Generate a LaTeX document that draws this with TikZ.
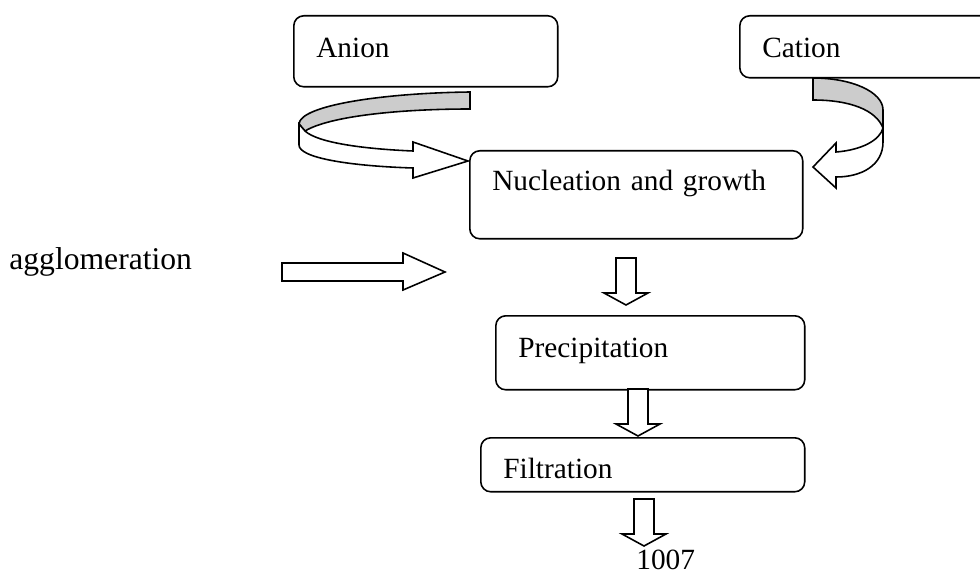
\documentclass[tikz,border=0pt]{standalone}
\usepackage{fontspec}
\usepackage{tikz}
\setmainfont{Liberation Serif}
\definecolor{ribbonback}{RGB}{204,204,204}

\tikzset{
  stage/.style={draw,line width=0.9pt,rounded corners=0.2cm,anchor=north west,align=left,
    inner ysep=0pt,inner xsep=0.45cm,font=\fontsize{16.7}{20}\selectfont},
  hollow/.style={draw,line width=0.9pt,fill=white,line join=miter},
  downblock/.pic={\draw[hollow] (-10,0) -- (10,0) -- (10,35) -- (22,35) -- (0,47) -- (-22,35) -- (-10,35) -- cycle;}
}

\begin{document}
\begin{tikzpicture}[x=0.02cm,y=-0.02cm]
\useasboundingbox (0,0) rectangle (980,574);

\node [stage,text width=4.38cm,text height=0.84cm,text depth=0.58cm] (anion) at (293,15) {Anion};
\node [stage,text width=5.1cm,text height=0.84cm,text depth=0.40cm] (cation) at (739,15) {Cation};
\node [stage,text width=5.76cm,text height=0.8cm,text depth=0.96cm] (nucleation) at (469,150) {Nucleation and growth};
\node [stage,text width=5.28cm,text height=0.84cm,text depth=0.64cm] (precipitation) at (495,315) {Precipitation};
\node [stage,text width=5.58cm,text height=0.82cm,text depth=0.26cm] (filtration) at (480,437) {Filtration};

\node [anchor=base west,inner sep=0pt,font=\fontsize{18}{21}\selectfont] (agglomeration) at (9,270) {agglomeration};
\node [anchor=base west,inner sep=0pt,font=\fontsize{16.7}{20}\selectfont] (yield) at (636,569) {1007};

\draw [hollow,fill=ribbonback] (470,92) .. controls (385,93) and (300,105) .. (299,124) -- (305,131)
  .. controls (330,116) and (400,109) .. (470,109) -- cycle;
\draw [hollow] (299,124) -- (299,145) .. controls (299,158) and (350,166) .. (413,168) -- (413,178) -- (468,161)
  -- (413,142) -- (413,151) .. controls (365,149) and (318,143) .. (305,131) -- cycle;

\draw [hollow,fill=ribbonback] (813,78) .. controls (852,78) and (883,92) .. (883,110) -- (883,128)
  .. controls (876,110) and (850,100) .. (813,100) -- cycle;
\draw [hollow] (883,128) -- (883,142) .. controls (883,165) and (862,177) .. (836,177) -- (836,188) -- (813,167)
  -- (836,143) -- (836,152) .. controls (862,150) and (880,140) .. (883,128) -- cycle;

\draw [hollow] (282,263) -- (403,263) -- (403,253) -- (445,272) -- (403,290) -- (403,281) -- (282,281) -- cycle;
\pic at (626,258) {downblock};
\pic at (638,389) {downblock};
\pic at (644,499) {downblock};
\end{tikzpicture}
\end{document}
